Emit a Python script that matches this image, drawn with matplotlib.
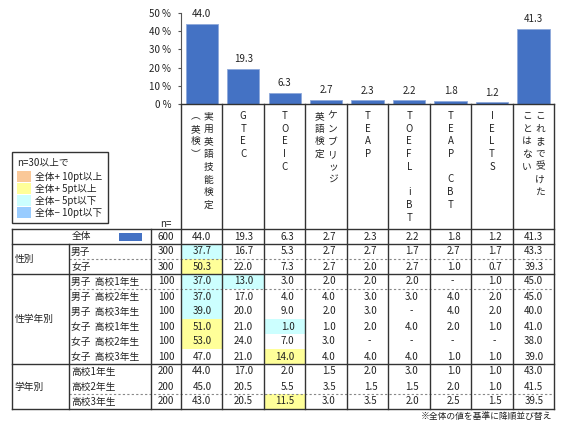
import matplotlib
matplotlib.use('Agg')
import matplotlib.pyplot as plt
from matplotlib.patches import Rectangle

plt.rcParams['font.family'] = ['Noto Sans CJK JP', 'DejaVu Sans']

# ---------------- data ----------------
categories = ['実用英語技能検定（英検）', 'GTEC', 'TOEIC', 'ケンブリッジ英語検定', 'TEAP',
              'TOEFL iBT', 'TEAP CBT', 'IELTS', 'これまで受けたことはない']
category_columns = [['実用英語技能検定', '︵英検︶'], ['GTEC'], ['TOEIC'],
                    ['ケンブリッジ', '英語検定'], ['TEAP'], ['TOEFL iBT'],
                    ['TEAP CBT'], ['IELTS'], ['これまで受けた', 'ことはない']]
overall_label = '全体'
overall_n = 600
overall = [44.0, 19.3, 6.3, 2.7, 2.3, 2.2, 1.8, 1.2, 41.3]

group_labels = ['性別', '性学年別', '学年別']
group_sizes = [2, 6, 3]
row_labels = ['男子', '女子',
              '男子  高校1年生', '男子  高校2年生', '男子  高校3年生',
              '女子  高校1年生', '女子  高校2年生', '女子  高校3年生',
              '高校1年生', '高校2年生', '高校3年生']
row_n = [300, 300, 100, 100, 100, 100, 100, 100, 200, 200, 200]
row_values = [
    [37.7, 16.7, 5.3, 2.7, 2.7, 1.7, 2.7, 1.7, 43.3],
    [50.3, 22.0, 7.3, 2.7, 2.0, 2.7, 1.0, 0.7, 39.3],
    [37.0, 13.0, 3.0, 2.0, 2.0, 2.0, None, 1.0, 45.0],
    [37.0, 17.0, 4.0, 4.0, 3.0, 3.0, 4.0, 2.0, 45.0],
    [39.0, 20.0, 9.0, 2.0, 3.0, None, 4.0, 2.0, 40.0],
    [51.0, 21.0, 1.0, 1.0, 2.0, 4.0, 2.0, 1.0, 41.0],
    [53.0, 24.0, 7.0, 3.0, None, None, None, None, 38.0],
    [47.0, 21.0, 14.0, 4.0, 4.0, 4.0, 1.0, 1.0, 39.0],
    [44.0, 17.0, 2.0, 1.5, 2.0, 3.0, 1.0, 1.0, 43.0],
    [45.0, 20.5, 5.5, 3.5, 1.5, 1.5, 2.0, 1.0, 41.5],
    [43.0, 20.5, 11.5, 3.0, 3.5, 2.0, 2.5, 1.5, 39.5],
]
yticks = [0, 10, 20, 30, 40, 50]
legend_title = 'n=30以上で'
legend_labels = ['全体+ 10pt以上', '全体+ 5pt以上', '全体− 5pt以下', '全体− 10pt以下']
footnote = '※全体の値を基準に降順並び替え'

# ---------------- style ----------------
BAR = '#4472C4'
HL = ['#FAC898', '#FFFF99', '#CCFFFF', '#99CCFF']
LINE = '#333333'
TXT = '#222222'
FS = 7

W, H = 567, 423
fig = plt.figure(figsize=(W / 100, H / 100), dpi=100)
bg = fig.add_axes([0, 0, 1, 1])
bg.set_xlim(0, W)
bg.set_ylim(H, 0)
bg.axis('off')

# layout (pixels)
X0, X1 = 181.0, 554.3
NC = len(categories)
CW = (X1 - X0) / NC
Y_AX_TOP, Y_AX_BOT = 12.7, 104.5
T_TOP = 229.0
RH = 15.0
L_EDGE, G_EDGE, N_EDGE = 12.3, 69.3, 150.7

# ---------------- bar chart ----------------
ax = fig.add_axes([X0 / W, (H - Y_AX_BOT) / H, (X1 - X0) / W, (Y_AX_BOT - Y_AX_TOP) / H])
ax.patch.set_alpha(0)
xs = list(range(NC))
ax.bar(xs, overall, width=0.78, color=BAR, edgecolor='#8EA9DB', linewidth=0.6)
for x, v in zip(xs, overall):
    ax.annotate(f'{v:.1f}', (x, v), xytext=(0, 7), textcoords='offset points',
                ha='center', va='center', fontsize=FS, color=TXT)
ax.set_xlim(-0.5, NC - 0.5)
ax.set_ylim(0, 50)
ax.set_xticks([])
ax.set_yticks(yticks)
ax.set_yticklabels([f'{t} %' for t in yticks], fontsize=FS, color=TXT)
ax.tick_params(axis='y', length=2, width=0.8, pad=5, color='#555555')
for s in ['top', 'right']:
    ax.spines[s].set_visible(False)
ax.spines['left'].set_color('#555555')
ax.spines['left'].set_linewidth(0.8)
ax.spines['bottom'].set_color(LINE)
ax.spines['bottom'].set_linewidth(1.0)

# ---------------- vertical category labels ----------------
for i, cols in enumerate(category_columns):
    cx = X0 + CW * (i + 0.5)
    k = len(cols)
    for j, s in enumerate(cols):
        off = 0 if k == 1 else (6.5 - 13 * j)
        for m, ch in enumerate(s):
            if ch == ' ':
                continue
            bg.text(cx + off, 116 + 12.7 * m, ch, ha='center', va='center',
                    fontsize=FS, color=TXT)

# ---------------- table ----------------
n_rows = 1 + len(row_labels)

def hline(y, x0, x1, dashed=False):
    if dashed:
        bg.plot([x0, x1], [y, y], color='#888888', lw=0.8, ls=(0, (2, 2)), zorder=3)
    else:
        bg.plot([x0, x1], [y, y], color=LINE, lw=1.0, zorder=4)

def vline(x, y0, y1):
    bg.plot([x, x], [y0, y1], color=LINE, lw=1.0, zorder=4)

# highlight cells
for r, vals in enumerate(row_values):
    for c, v in enumerate(vals):
        d = round((v if v is not None else 0.0) - overall[c], 1)
        col = None
        if d >= 10:
            col = HL[0]
        elif d >= 5:
            col = HL[1]
        elif d <= -10:
            col = HL[3]
        elif d <= -5:
            col = HL[2]
        if col:
            bg.add_patch(Rectangle((X0 + CW * c, T_TOP + RH * (r + 1)), CW, RH,
                                   facecolor=col, edgecolor='none', zorder=1))

# horizontal lines
solid_rows = [0, 1]
acc = 1
for g in group_sizes:
    acc += g
    solid_rows.append(acc)
for r in solid_rows:
    hline(T_TOP + RH * r, L_EDGE, X1)
for r in [2, 4, 11]:
    hline(T_TOP + RH * r, G_EDGE, X1, dashed=True)

# vertical lines
vline(L_EDGE, T_TOP, T_TOP + RH * n_rows)
vline(G_EDGE, T_TOP + RH, T_TOP + RH * n_rows)
vline(N_EDGE, T_TOP, T_TOP + RH * n_rows)
for c in range(NC + 1):
    vline(X0 + CW * c, Y_AX_BOT, T_TOP + RH * n_rows)

def cell_y(r):
    return T_TOP + RH * r + RH / 2

def put_val(c, r, v):
    right = X0 + CW * (c + 1)
    if v is None:
        bg.text(right - 19, cell_y(r), '-', ha='center', va='center', fontsize=FS, color=TXT, zorder=5)
    else:
        bg.text(right - 11, cell_y(r), f'{v:.1f}', ha='right', va='center', fontsize=FS, color=TXT, zorder=5)

# header n=
bg.text((N_EDGE + X0) / 2, 224, 'n=', ha='center', va='center', fontsize=FS, color=TXT)

# overall row
bg.text(81.7, cell_y(0), overall_label, ha='center', va='center', fontsize=FS, color=TXT)
bg.add_patch(Rectangle((119.3, 233.3), 22.4, 7.4, facecolor=BAR, edgecolor='none', zorder=5))
bg.text((N_EDGE + X0) / 2, cell_y(0), f'{overall_n}', ha='center', va='center', fontsize=FS, color=TXT)
for c, v in enumerate(overall):
    put_val(c, 0, v)

# group labels
start = 1
for g, sz in zip(group_labels, group_sizes):
    yc = T_TOP + RH * start + RH * sz / 2
    bg.text(14.3, yc, g, ha='left', va='center', fontsize=FS, color=TXT)
    start += sz

# rows
for r, (lab, n, vals) in enumerate(zip(row_labels, row_n, row_values)):
    rr = r + 1
    bg.text(71, cell_y(rr), lab, ha='left', va='center', fontsize=FS, color=TXT)
    bg.text((N_EDGE + X0) / 2, cell_y(rr), f'{n}', ha='center', va='center', fontsize=FS, color=TXT)
    for c, v in enumerate(vals):
        put_val(c, rr, v)

# ---------------- legend ----------------
bg.add_patch(Rectangle((11.7, 152.3), 96.6, 70.7, facecolor='white', edgecolor=LINE, lw=1.0, zorder=2))
bg.text(17.3, 162.7, legend_title, ha='left', va='center', fontsize=FS, color=TXT, zorder=3)
for i, (lab, col) in enumerate(zip(legend_labels, HL)):
    top = 171 + 12 * i
    bg.add_patch(Rectangle((16.7, top), 14.3, 11.5, facecolor=col, edgecolor='none', zorder=3))
    bg.text(35, top + 6.2, lab, ha='left', va='center', fontsize=FS, color=TXT, zorder=3)

# footnote
bg.text(552, 416, footnote, ha='right', va='center', fontsize=6.3, color=TXT)

fig.savefig('out.png', dpi=100)
